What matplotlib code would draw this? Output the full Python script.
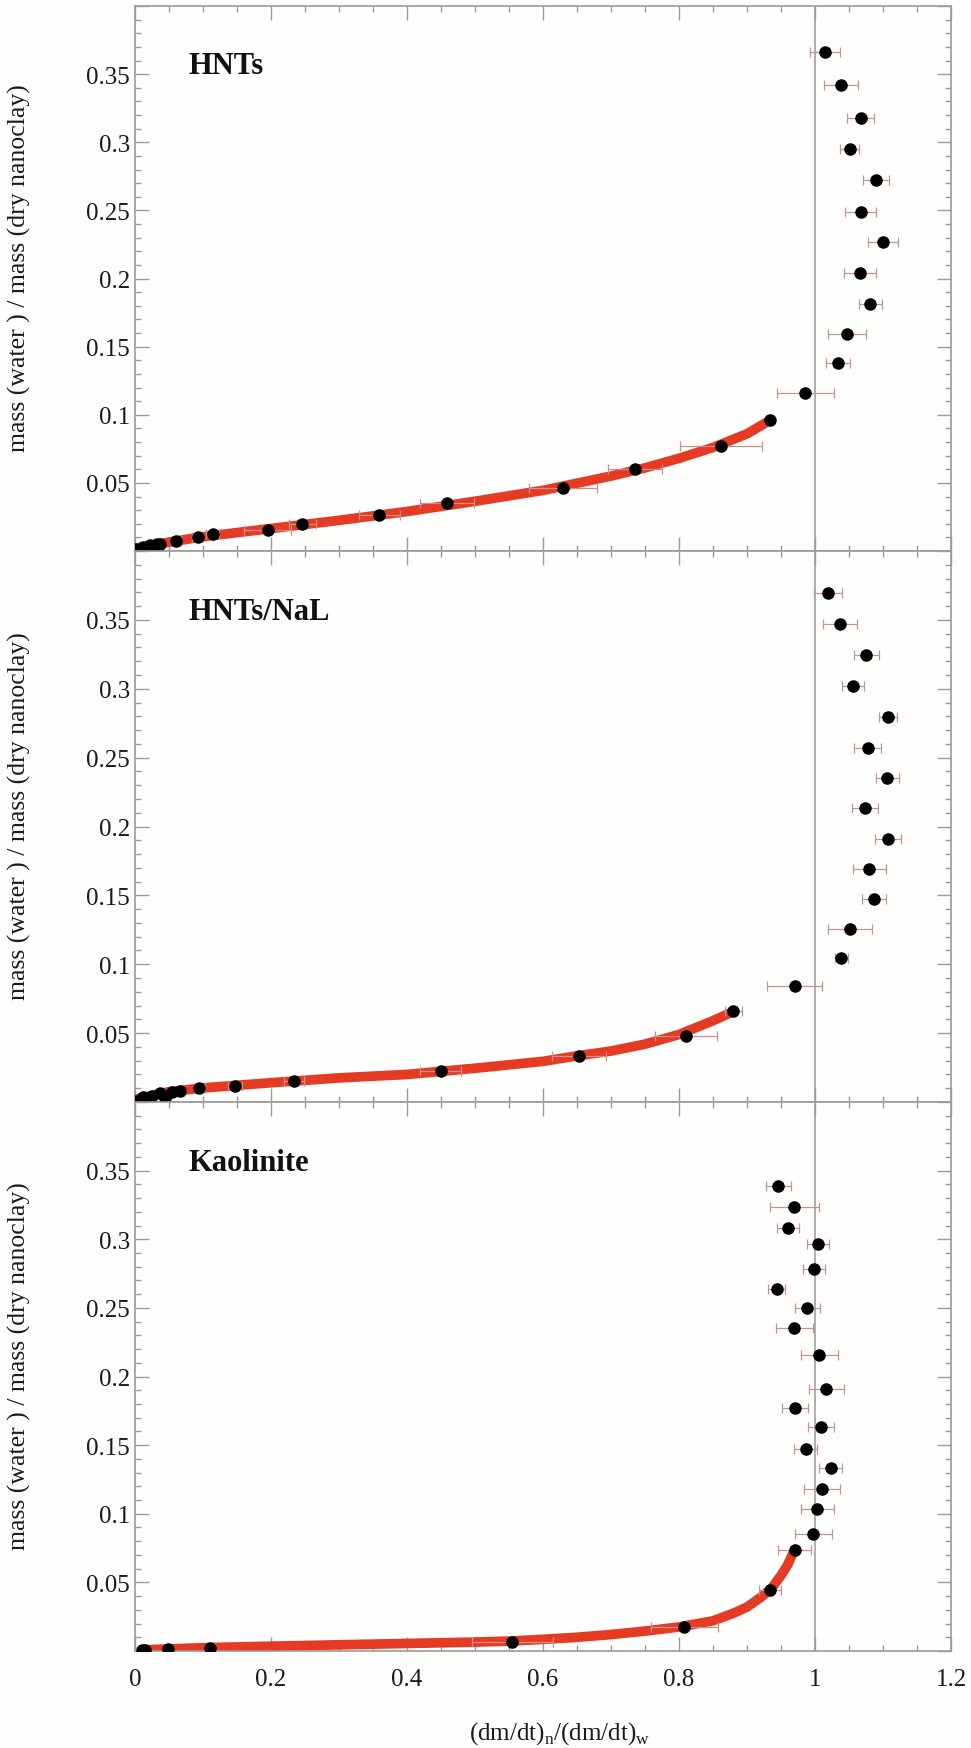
import matplotlib
matplotlib.use("Agg")
import matplotlib.pyplot as plt
from matplotlib.ticker import MultipleLocator, FuncFormatter

plt.rcParams["font.family"] = "serif"
plt.rcParams["font.serif"] = ["Liberation Serif", "DejaVu Serif"]
plt.rcParams["mathtext.fontset"] = "custom"
plt.rcParams["mathtext.rm"] = "Liberation Serif"

# ---- data ----
panel_names = ["HNTs", "HNTs/NaL", "Kaolinite"]

# HNTs
hnt_x = [0.0, 0.012, 0.022, 0.032, 0.037, 0.061, 0.092, 0.114, 0.195, 0.246,
         0.359, 0.459, 0.63, 0.735, 0.862, 0.934, 0.986, 1.034, 1.047, 1.081,
         1.066, 1.100, 1.067, 1.090, 1.051, 1.067, 1.038, 1.015]
hnt_y = [0.0015, 0.003, 0.0045, 0.005, 0.0055, 0.0076, 0.0100, 0.0123, 0.0152, 0.0200,
         0.0264, 0.0351, 0.046, 0.060, 0.077, 0.096, 0.116, 0.138, 0.159, 0.181,
         0.204, 0.227, 0.249, 0.272, 0.295, 0.318, 0.342, 0.366]
hnt_xerr = [0.003, 0.004, 0.004, 0.004, 0.005, 0.006, 0.008, 0.010, 0.035, 0.02,
            0.03, 0.04, 0.05, 0.04, 0.06, 0.006, 0.042, 0.018, 0.028, 0.017,
            0.0235, 0.0225, 0.023, 0.019, 0.014, 0.02, 0.025, 0.022]
hnt_fit_x = [0.0, 0.05, 0.1, 0.2, 0.3, 0.4, 0.5, 0.6, 0.7, 0.75, 0.8, 0.85, 0.9, 0.934]
hnt_fit_y = [0.002, 0.0065, 0.0105, 0.0165, 0.0225, 0.029, 0.0365, 0.0445, 0.055,
             0.061, 0.068, 0.076, 0.086, 0.096]

# HNTs/NaL
nal_x = [0.0, 0.012, 0.0245, 0.037, 0.044, 0.054, 0.066, 0.0946, 0.147, 0.234,
         0.4495, 0.653, 0.810, 0.880, 0.970, 1.0387, 1.0515, 1.0868, 1.0799, 1.107,
         1.0735, 1.1063, 1.0775, 1.107, 1.0559, 1.0754, 1.0368, 1.0196]
nal_y = [0.001, 0.0034, 0.0046, 0.0063, 0.0027, 0.0075, 0.0082, 0.0102, 0.0119, 0.0155,
         0.0223, 0.0336, 0.048, 0.0657, 0.0841, 0.1048, 0.1256, 0.1474, 0.1691, 0.1912,
         0.2132, 0.2355, 0.2573, 0.2798, 0.3019, 0.3242, 0.3467, 0.3696]
nal_xerr = [0.003, 0.004, 0.004, 0.004, 0.004, 0.005, 0.006, 0.008, 0.01, 0.015,
            0.03, 0.04, 0.046, 0.012, 0.041, 0.01, 0.033, 0.017, 0.024, 0.019,
            0.019, 0.017, 0.02, 0.013, 0.016, 0.018, 0.0245, 0.0206]
nal_fit_x = [0.0, 0.05, 0.1, 0.2, 0.3, 0.4, 0.5, 0.6, 0.65, 0.7, 0.75, 0.8, 0.85, 0.88]
nal_fit_y = [0.002, 0.0075, 0.0102, 0.014, 0.0175, 0.020, 0.0245, 0.0295, 0.0335,
             0.037, 0.042, 0.049, 0.059, 0.0657]

# Kaolinite
kao_x = [0.010, 0.014, 0.049, 0.111, 0.555, 0.808, 0.934, 0.970, 0.9975, 1.0034,
         1.0103, 1.023, 0.9863, 1.0093, 0.9706, 1.0167, 1.0064, 0.9696, 0.9887, 0.944,
         0.999, 1.004, 0.960, 0.9696, 0.946]
kao_y = [0.0005, 0.0008, 0.0012, 0.0024, 0.0063, 0.0172, 0.0447, 0.0738, 0.085, 0.1035,
         0.118, 0.1331, 0.1472, 0.1633, 0.1768, 0.1906, 0.2159, 0.2351, 0.2497, 0.2635,
         0.2786, 0.2965, 0.3083, 0.3234, 0.339]
kao_xerr = [0.003, 0.003, 0.004, 0.006, 0.06, 0.049, 0.016, 0.024, 0.027, 0.024,
            0.027, 0.017, 0.017, 0.019, 0.019, 0.026, 0.027, 0.027, 0.018, 0.0125,
            0.016, 0.016, 0.016, 0.036, 0.018]
kao_fit_x = [0.01, 0.1, 0.2, 0.3, 0.4, 0.5, 0.55, 0.6, 0.65, 0.7, 0.75, 0.8, 0.85,
             0.88, 0.9, 0.92, 0.935, 0.95, 0.96, 0.97]
kao_fit_y = [0.0008, 0.0024, 0.0035, 0.0045, 0.0055, 0.0065, 0.0072, 0.0085, 0.010,
             0.012, 0.0145, 0.0175, 0.022, 0.0275, 0.032, 0.039, 0.045, 0.055, 0.063, 0.074]

panels = [
    (hnt_x, hnt_y, hnt_xerr, hnt_fit_x, hnt_fit_y),
    (nal_x, nal_y, nal_xerr, nal_fit_x, nal_fit_y),
    (kao_x, kao_y, kao_xerr, kao_fit_x, kao_fit_y),
]

# ---- figure ----
W, H = 971, 1749
fig = plt.figure(figsize=(W / 100, H / 100), dpi=100, facecolor="#fefefc")

left, right = 135 / W, 951 / W
tops = [7, 552, 1103]
bots = [552, 1103, 1652]
axis_grey = "#9a9a9a"

axes = []
for i, (name, data) in enumerate(zip(panel_names, panels)):
    x, y, xerr, fx, fy = data
    ax = fig.add_axes([left, 1 - bots[i] / H, right - left, (bots[i] - tops[i]) / H])
    ax.set_facecolor("#fefefc")
    axes.append(ax)

    ax.axvline(1.0, color="#a8a8a8", lw=1.3, zorder=1)
    ax.plot(fx, fy, color="#e53a24", lw=7, solid_capstyle="round", zorder=2)
    ax.errorbar(x, y, xerr=xerr, fmt="none", ecolor="#c99090", elinewidth=0.9,
                capsize=3.5, capthick=0.9, zorder=3)
    ax.plot(x, y, "o", color="black", ms=8, zorder=4)

    ax.set_xlim(0, 1.2)
    ax.set_ylim(0, 0.4)
    ax.xaxis.set_major_locator(MultipleLocator(0.2))
    ax.xaxis.set_minor_locator(MultipleLocator(0.05))
    ax.yaxis.set_major_locator(MultipleLocator(0.05))
    ax.yaxis.set_minor_locator(MultipleLocator(0.01))
    ax.xaxis.set_major_formatter(FuncFormatter(lambda v, _: f"{round(v, 2):g}"))
    ax.yaxis.set_major_formatter(
        FuncFormatter(lambda v, _: "" if v < 0.01 or v > 0.38 else f"{round(v, 2):g}"))
    ax.tick_params(which="both", direction="in", top=True, right=True,
                   color=axis_grey, labelsize=18, labelcolor="#1a1a1a")
    ax.tick_params(which="major", length=10, width=1)
    ax.tick_params(which="minor", length=4.5, width=1)
    ax.tick_params(axis="x", pad=12)
    for sp in ax.spines.values():
        sp.set_color(axis_grey)
        sp.set_linewidth(1.2)

    ax.set_ylabel("mass (water ) / mass (dry nanoclay)", fontsize=18.5, color="#1a1a1a")
    ax.yaxis.set_label_coords(-0.128, 0.52)
    ax.text(0.065, 0.89, name, transform=ax.transAxes, fontsize=22,
            fontweight="bold", ha="left", va="center", color="#111111")
    if i < 2:
        ax.tick_params(axis="x", labelbottom=False)

axes[-1].set_xlabel(r"(dm/dt)$_\mathregular{n}$/(dm/dt)$_\mathregular{w}$",
                    fontsize=18, color="#1a1a1a")
axes[-1].xaxis.set_label_coords(0.52, -0.125)

fig.savefig("out.png", dpi=100, facecolor=fig.get_facecolor())
